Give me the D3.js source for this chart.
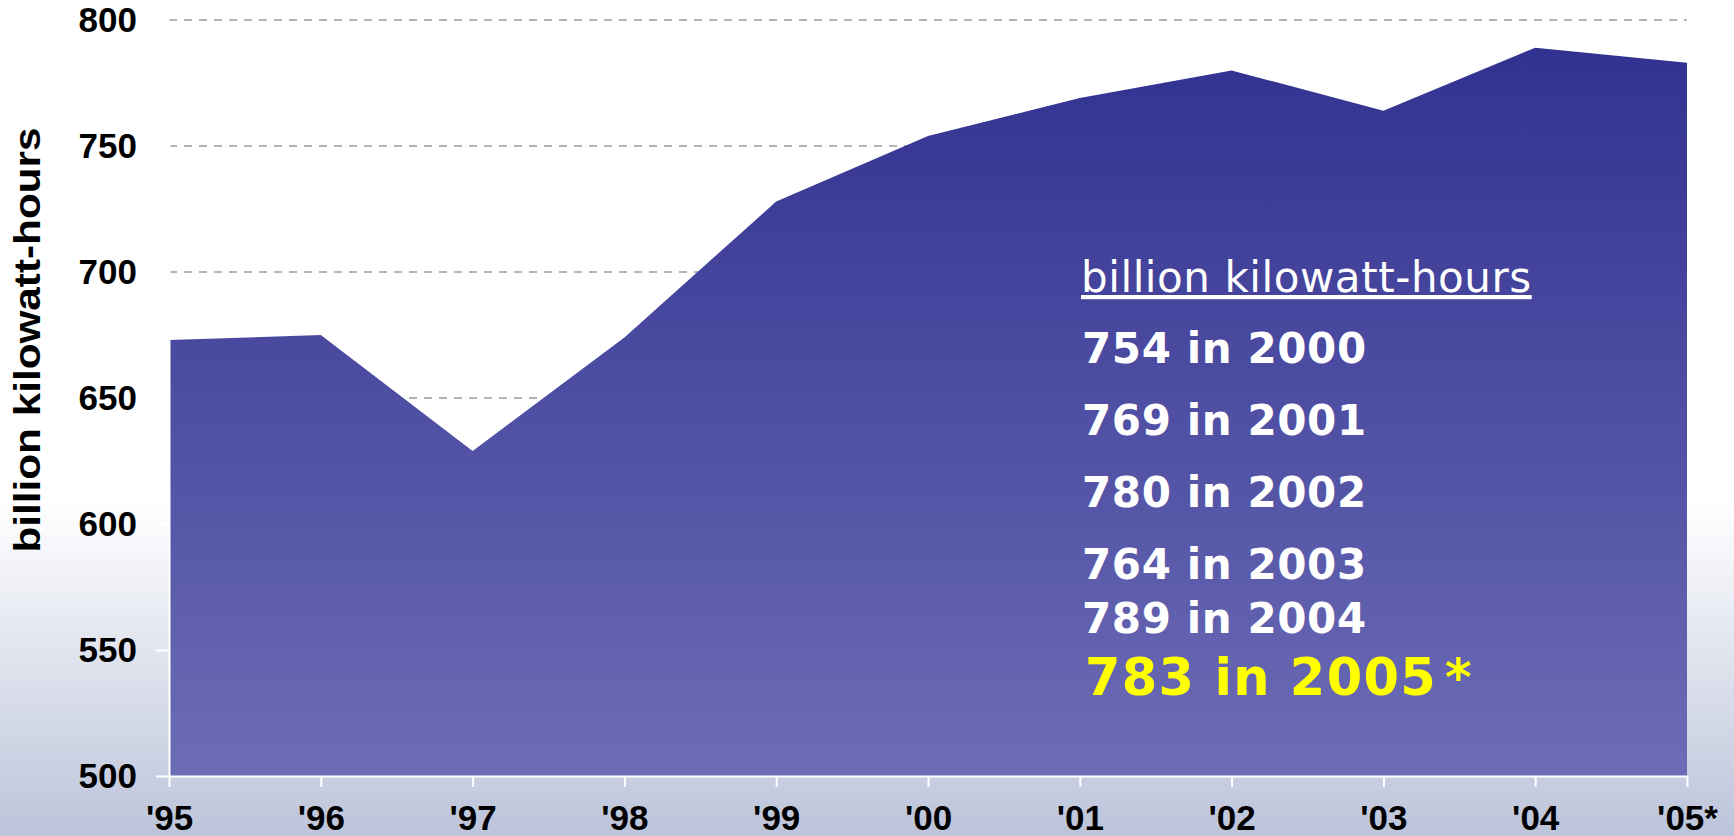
<!DOCTYPE html>
<html>
<head>
<meta charset="utf-8">
<script src="https://cdn.jsdelivr.net/npm/d3@7"></script>
<style>
  body { margin: 0; overflow: hidden; }
  svg { display: block; }
</style>
</head>
<body>
<div id="chart"></div>
<script>
// data
const years = ["'95", "'96", "'97", "'98", "'99", "'00", "'01", "'02", "'03", "'04", "'05*"];
const generation = [673, 675, 629, 674, 728, 754, 769, 780, 764, 789, 783];
const yTicks = [500, 550, 600, 650, 700, 750, 800];
const noteTitle = 'billion kilowatt-hours';
const noteLines = ['754 in 2000', '769 in 2001', '780 in 2002', '764 in 2003', '789 in 2004'];
const noteLast = '783 in 2005';

const W = 1734, H = 836;
const margin = { top: 20, right: 47, bottom: 60, left: 169 };

const svg = d3.select('#chart').append('svg')
  .attr('width', W)
  .attr('height', H);

const defs = svg.append('defs');

// page background: white fading to grey-blue at the bottom
const bg = defs.append('linearGradient')
  .attr('id', 'bg').attr('x1', 0).attr('y1', 0).attr('x2', 0).attr('y2', 1);
bg.append('stop').attr('offset', '0.6').attr('stop-color', '#ffffff');
bg.append('stop').attr('offset', '1').attr('stop-color', '#bcc4da');

svg.append('rect').attr('width', W).attr('height', H).attr('fill', 'url(#bg)');

const x = d3.scalePoint()
  .domain(years)
  .range([margin.left, W - margin.right]);

const y = d3.scaleLinear()
  .domain([500, 800])
  .range([H - margin.bottom, margin.top]);

// area fill gradient
const fillGrad = defs.append('linearGradient')
  .attr('id', 'areaFill')
  .attr('gradientUnits', 'userSpaceOnUse')
  .attr('x1', 0).attr('x2', 0)
  .attr('y1', y(800)).attr('y2', y(500));
fillGrad.append('stop').attr('offset', '0').attr('stop-color', '#2f2f8f');
fillGrad.append('stop').attr('offset', '1').attr('stop-color', '#6c6cb6');

// dashed gridlines behind the area
svg.append('g')
  .selectAll('line')
  .data(yTicks.filter(d => d > 500))
  .join('line')
  .attr('x1', x.range()[0])
  .attr('x2', x.range()[1])
  .attr('y1', d => y(d))
  .attr('y2', d => y(d))
  .attr('stroke', '#b4b4b4')
  .attr('stroke-width', 2)
  .attr('stroke-dasharray', '8,7');

const area = d3.area()
  .x((d, i) => x(years[i]))
  .y0(y(500))
  .y1(d => y(d));

svg.append('path')
  .datum(generation)
  .attr('d', area)
  .attr('fill', 'url(#areaFill)');

// axes (white lines)
const yAxis = svg.append('g')
  .attr('transform', `translate(${margin.left},0)`)
  .call(d3.axisLeft(y).tickValues(yTicks).tickSize(13).tickPadding(19).tickSizeOuter(0));

const xAxis = svg.append('g')
  .attr('transform', `translate(0,${y(500)})`)
  .call(d3.axisBottom(x).tickSize(11).tickPadding(18).tickSizeOuter(0));

[yAxis, xAxis].forEach(g => {
  g.select('.domain').attr('stroke', '#ffffff').attr('stroke-width', 2);
  g.selectAll('.tick line').attr('stroke', '#ffffff').attr('stroke-width', 2);
  g.selectAll('.tick text')
    .attr('fill', '#000')
    .style('font-family', '"Liberation Sans", Arial, sans-serif')
    .style('font-weight', 'bold')
    .style('font-size', '35px');
});

// y axis title
svg.append('text')
  .attr('transform', 'translate(40,340) rotate(-90)')
  .attr('text-anchor', 'middle')
  .attr('textLength', 425)
  .attr('lengthAdjust', 'spacingAndGlyphs')
  .style('font-family', '"Liberation Sans", Arial, sans-serif')
  .style('font-weight', 'bold')
  .style('font-size', '37px')
  .attr('fill', '#000')
  .text('billion kilowatt-hours');

// annotation block on the area
const note = svg.append('g')
  .style('font-family', '"DejaVu Sans", Verdana, sans-serif');

note.append('text')
  .attr('x', 1081)
  .attr('y', 292)
  .attr('fill', '#fff')
  .style('font-size', '42px')
  .style('letter-spacing', '0.55px')
  .style('text-decoration', 'underline')
  .text(noteTitle);

const lineY = [363, 435, 507, 579, 633];
note.selectAll('.row')
  .data(noteLines)
  .join('text')
  .attr('class', 'row')
  .attr('x', 1082)
  .attr('y', (d, i) => lineY[i])
  .attr('fill', '#fff')
  .style('font-size', '42px')
  .style('font-weight', 'bold')
  .style('letter-spacing', '0.6px')
  .text(d => d);

const last = note.append('text')
  .attr('x', 1085)
  .attr('y', 695)
  .attr('fill', '#ffff00')
  .style('font-size', '51px')
  .style('font-weight', 'bold')
  .style('letter-spacing', '1.3px');
last.append('tspan').text(noteLast);
last.append('tspan').attr('dx', 8).text('*');
</script>
</body>
</html>
